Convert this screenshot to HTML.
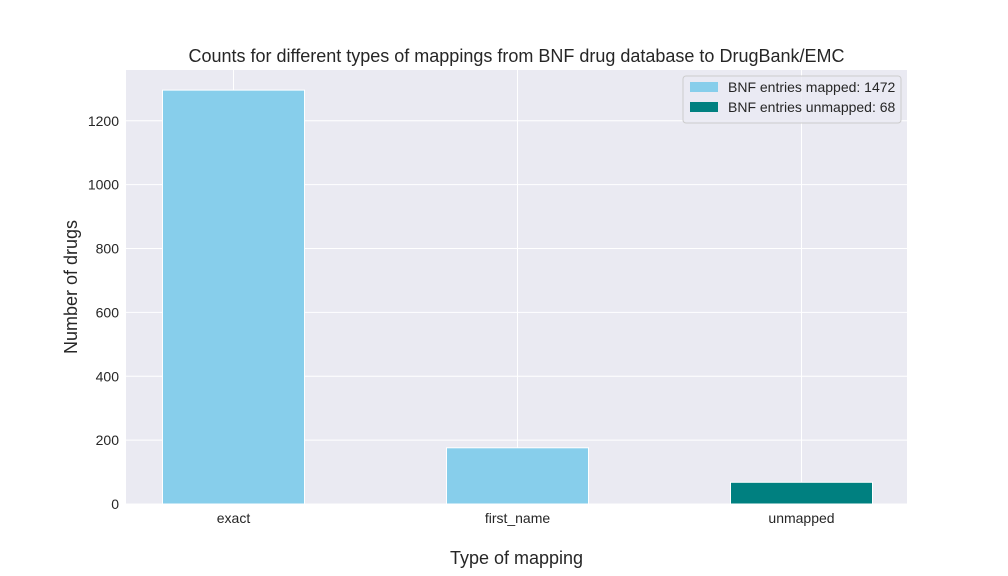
<!DOCTYPE html>
<html><head><meta charset="utf-8"><style>
body{margin:0;background:#fff;}
svg{display:block;font-family:"Liberation Sans","DejaVu Sans",sans-serif;}
</style></head><body>
<svg id="chart" width="1008" height="576"></svg>
<script>
const categories=["exact","first_name","unmapped"];
const values=[1296,176,68];
const colors=["#87ceeb","#87ceeb","#008080"];
const yTicks=[0,200,400,600,800,1000,1200];
const legendLabels=["BNF entries mapped: 1472","BNF entries unmapped: 68"];
const legendColors=["#87ceeb","#008080"];

const NS="http://www.w3.org/2000/svg";
const svg=document.getElementById('chart');
const L=126,R=907,T=70,B=504;
const yMax=1359;
const y=v=>B-(v/yMax)*(B-T);
const step=284;
const x=i=>233.5+step*i;
function mk(t,a,p){const e=document.createElementNS(NS,t);for(const k in a)e.setAttribute(k,a[k]);(p||svg).appendChild(e);return e;}

const bg=mk('rect',{x:L,y:T,width:R-L,height:B-T,fill:'#eaeaf2'});



yTicks.forEach(t=>{
 const g=mk('line',{x1:L,x2:R,y1:y(t),y2:y(t),stroke:'#fff','stroke-width':1});
 
 
 const lb=mk('text',{x:L-7,y:y(t)+5,'text-anchor':'end','font-size':14,fill:'#262626'});
 lb.textContent=t;
 
 
});
categories.forEach((c,i)=>{
 const g=mk('line',{x1:x(i),x2:x(i),y1:T,y2:B,stroke:'#fff','stroke-width':1});
 
 
});
categories.forEach((c,i)=>{
 const w=step*0.5;
 const b=mk('rect',{x:x(i)-w/2,y:y(values[i]),width:w,height:B-y(values[i]),fill:colors[i],stroke:'#fff','stroke-width':1});
 
 
 const lb=mk('text',{x:x(i),y:B+19,'text-anchor':'middle','font-size':14,fill:'#262626'});
 lb.textContent=c;
 
 
});

const title=mk('text',{x:(L+R)/2,y:62,'text-anchor':'middle','font-size':18,fill:'#262626'});
title.textContent="Counts for different types of mappings from BNF drug database to DrugBank/EMC";


const xt=mk('text',{x:(L+R)/2,y:564,'text-anchor':'middle','font-size':18,fill:'#262626'});
xt.textContent="Type of mapping";


const yt=mk('text',{x:77,y:(T+B)/2,'text-anchor':'middle','font-size':18,fill:'#262626',transform:`rotate(-90 77 ${(T+B)/2})`});
yt.textContent="Number of drugs";



const lg=mk('g',{});


mk('rect',{x:683,y:76,width:218,height:47,rx:3,fill:'#eaeaf2',stroke:'#ccc','fill-opacity':0.8},lg);
legendLabels.forEach((t,i)=>{
 const sw=mk('rect',{x:690,y:82+i*20,width:28,height:10,fill:legendColors[i]},lg);
 
 
 const tx=mk('text',{x:728,y:92+i*20,'font-size':14,fill:'#262626'},lg);
 tx.textContent=t;
 
 
});
</script>
</body></html>
